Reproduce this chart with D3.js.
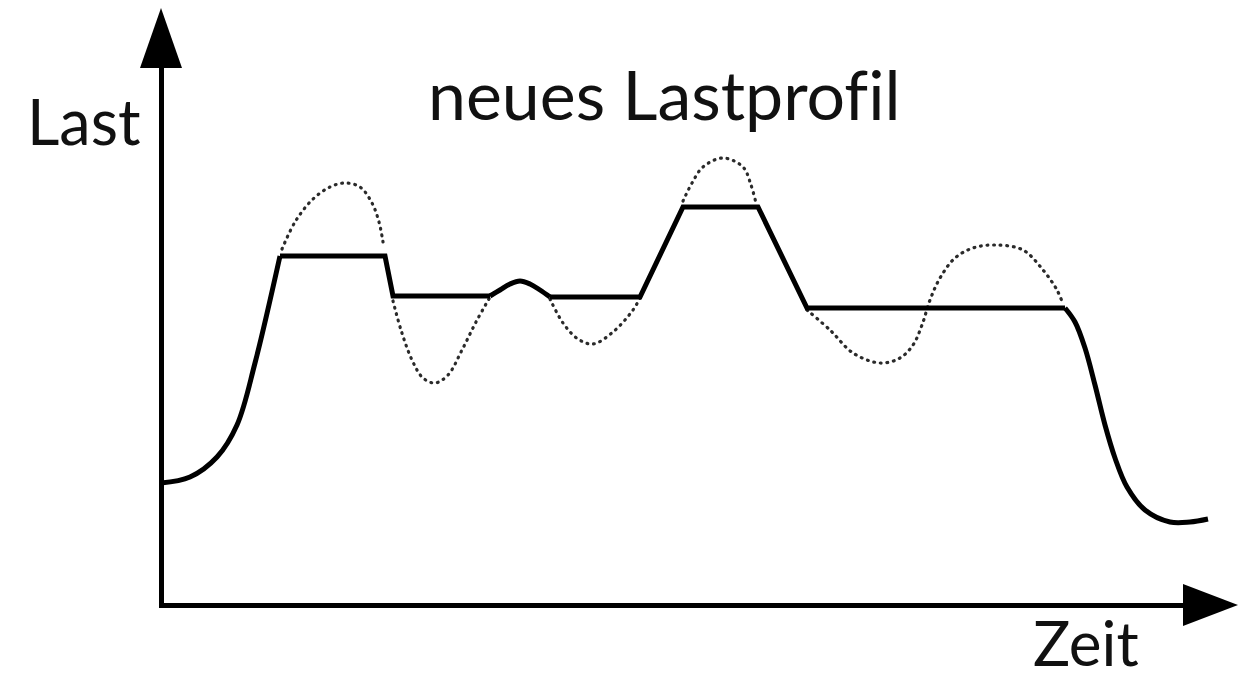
<!DOCTYPE html>
<html>
<head>
<meta charset="utf-8">
<script src="https://cdn.jsdelivr.net/npm/d3@7"></script>
<style>
  html, body { margin: 0; padding: 0; background: #fff; }
  svg { display: block; }
  text { font-family: Lato, "Open Sans", sans-serif; fill: #111; font-variant-ligatures: none; font-feature-settings: "liga" 0; }
</style>
</head>
<body>
<svg id="chart" width="1239" height="680"></svg>
<script>
// ---------------- data (arbitrary units: Zeit / Last) ----------------
const title = "neues Lastprofil";
const yLabel = "Last";
const xLabel = "Zeit";

// new load profile (solid), split into pieces: curved ramps and straight plateaus
const solidRise = [[0,12.2],[2.9,12.8],[5.6,14.8],[7.6,18.0],[9.4,24.2],[11.9,34.9]];
const solidPlateau1 = [[11.9,34.9],[22.4,34.9],[23.2,30.9],[32.9,30.9]];
const solidBump = [[32.9,30.9],[33.9,31.5],[34.9,32.1],[35.9,32.4],[36.9,32.1],[37.9,31.5],[38.9,30.8]];
const solidPlateau2 = [[38.9,30.8],[47.9,30.8],[52.2,39.8],[59.7,39.8],[64.6,29.7],[90.4,29.7]];
const solidFall = [[90.4,29.7],[91.4,28.3],[92.4,25.7],[93.4,22.0],[94.4,18.0],[95.4,14.7],[96.6,11.8],[98.4,9.5],[100.9,8.3],[102.9,8.3],[104.7,8.6]];

// original load profile (dotted) where it differs from the new one
const origPeak1 = [[12.1,35.6],[13.4,38.3],[15.1,40.5],[16.9,41.8],[18.4,42.2],[19.9,41.8],[21.1,40.2],[21.8,38.3],[22.2,36.3]];
const origValley1 = [[23.2,30.4],[24.0,27.5],[25.1,24.5],[26.2,22.7],[27.4,22.2],[28.7,23.0],[30.1,25.5],[31.5,28.3],[32.9,30.8]];
const origValley2 = [[38.9,30.6],[40.2,28.2],[41.7,26.6],[43.2,26.1],[45.2,27.3],[47.2,29.5],[47.9,30.7]];
const origPeak2 = [[52.2,40.4],[53.1,42.2],[54.2,43.8],[56.2,44.7],[58.2,43.8],[59.0,42.0],[59.5,40.2]];
const origWave = [[64.6,29.5],[66.9,27.5],[69.2,25.2],[71.9,24.2],[73.9,24.7],[75.2,26.0],[76.1,28.0],[76.9,30.5],[77.9,32.7],[79.4,34.7],[81.2,35.7],[83.4,36.0],[86.2,35.5],[88.2,33.5],[89.6,31.5],[90.2,30.1]];

const X_MAX = 107.7, Y_MAX = 59.7;

// ---------------- drawing ----------------
const svg = d3.select("#chart");
const x = d3.scaleLinear().domain([0, X_MAX]).range([161, 1238]);
const y = d3.scaleLinear().domain([0, Y_MAX]).range([605, 8]);

const ARROW_LEN = 55, ARROW_HALF = 21;

// axis lines (no ticks) ending at arrow bases
const xAxisScale = d3.scaleLinear().domain([0, x.invert(x(X_MAX) - ARROW_LEN + 2)]).range([x(0) - 2.5, x(X_MAX) - ARROW_LEN + 2]);
const yAxisScale = d3.scaleLinear().domain([0, y.invert(y(Y_MAX) + ARROW_LEN + 2)]).range([y(0) + 2.5, y(Y_MAX) + ARROW_LEN + 2]);

svg.append("g")
  .attr("transform", `translate(0,${y(0)})`)
  .call(d3.axisBottom(xAxisScale).tickValues([]).tickSizeOuter(0))
  .call(g => g.select(".domain").attr("stroke", "#000").attr("stroke-width", 5));

svg.append("g")
  .attr("transform", `translate(${x(0)},0)`)
  .call(d3.axisLeft(yAxisScale).tickValues([]).tickSizeOuter(0))
  .call(g => g.select(".domain").attr("stroke", "#000").attr("stroke-width", 5));

// arrowheads
svg.append("path")
  .attr("d", `M${x(X_MAX)},${y(0)} L${x(X_MAX) - ARROW_LEN},${y(0) - ARROW_HALF} L${x(X_MAX) - ARROW_LEN},${y(0) + ARROW_HALF} Z`)
  .attr("fill", "#000");
svg.append("path")
  .attr("d", `M${x(0)},${y(Y_MAX)} L${x(0) - ARROW_HALF},${y(Y_MAX) + ARROW_LEN + 5} L${x(0) + ARROW_HALF},${y(Y_MAX) + ARROW_LEN + 5} Z`)
  .attr("fill", "#000");

const lineCurve = d3.line().x(d => x(d[0])).y(d => y(d[1])).curve(d3.curveCatmullRom.alpha(0.5));
const lineStraight = d3.line().x(d => x(d[0])).y(d => y(d[1])).curve(d3.curveLinear);

// dotted original profile
[origPeak1, origValley1, origValley2, origPeak2, origWave].forEach(seg => {
  svg.append("path")
    .attr("d", lineCurve(seg))
    .attr("fill", "none")
    .attr("stroke", "#2a2a2a")
    .attr("stroke-width", 3.2)
    .attr("stroke-dasharray", "0.8 5.8")
    .attr("stroke-linecap", "round");
});

// solid new profile
const solidG = svg.append("g")
  .attr("fill", "none").attr("stroke", "#000").attr("stroke-width", 5)
  .attr("stroke-linejoin", "miter").attr("stroke-linecap", "butt");
[solidRise, solidBump, solidFall].forEach(seg => solidG.append("path").attr("d", lineCurve(seg)));
[solidPlateau1, solidPlateau2].forEach(seg => solidG.append("path").attr("d", lineStraight(seg)));

// texts
svg.append("text").attr("x", 27).attr("y", 145).attr("font-size", 63).text(yLabel);
svg.append("text").attr("x", 428).attr("y", 120).attr("font-size", 68).text(title);
svg.append("text").attr("x", 1033).attr("y", 666).attr("font-size", 62).text(xLabel);
</script>
</body>
</html>
